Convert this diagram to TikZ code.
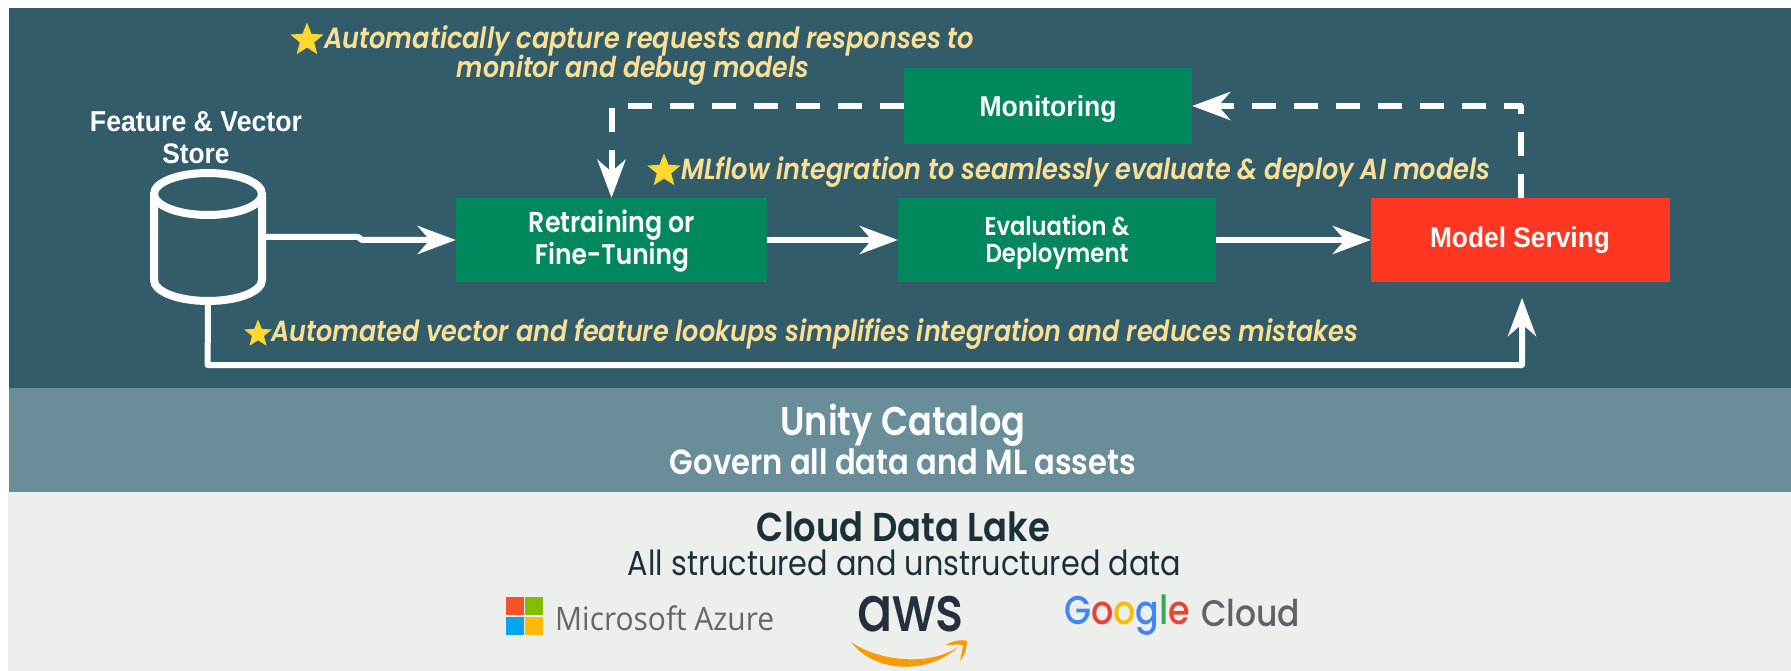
\documentclass[tikz,border=0pt]{standalone}
\usepackage{fontspec}
\usepackage{graphicx}
\usetikzlibrary{arrows.meta,shapes.geometric}
\setmainfont{Liberation Sans}
\newfontfamily\pops[BoldFont={Poppins SemiBold},ItalicFont={Poppins Italic},BoldItalicFont={Poppins SemiBold Italic}]{Poppins}
\newfontfamily\popsm{Poppins Medium}
\newfontfamily\opens{Open Sans}
\definecolor{bgdark}{HTML}{335C6B}
\definecolor{band}{HTML}{6A8D9A}
\definecolor{lake}{HTML}{EDEFEC}
\definecolor{gbox}{HTML}{00875C}
\definecolor{rbox}{HTML}{FF3621}
\definecolor{note}{HTML}{FBE096}
\definecolor{ink}{HTML}{1B3139}
\definecolor{msgray}{HTML}{666666}
\definecolor{awsink}{HTML}{252F3E}
\definecolor{awsor}{HTML}{FF9900}
\definecolor{gbl}{HTML}{4285F4}
\definecolor{gre}{HTML}{EA4335}
\definecolor{gye}{HTML}{FBBC05}
\definecolor{ggr}{HTML}{34A853}
\definecolor{ggy}{HTML}{5F6368}
\definecolor{starc}{HTML}{FFD92E}
\newcommand{\fw}[2]{\resizebox{#1pt}{!}{#2}}
\newcommand{\fv}[3][1.14]{\scalebox{1}[#1]{\resizebox{#2pt}{!}{#3}}}
\tikzset{
  x=1pt,y=-1pt,
  boxg/.style={fill=gbox,text=white,inner sep=0pt,align=center,font=\fontsize{20}{32}\selectfont},
  boxr/.style={fill=rbox,text=white,inner sep=0pt,align=center},
  txt/.style={inner sep=0pt,align=center},
  notetxt/.style={txt,text=note},
  starry/.style={star,star points=5,star point ratio=2.3,fill=starc,draw=none,inner sep=0pt,minimum size=35pt},
  link/.style={draw=white,line width=6pt,line join=round,-{Stealth[length=38pt,width=28pt,inset=12pt,fill=white]}},
  dlink/.style={link,dash pattern=on 24pt off 18pt},
  sq/.style={inner sep=0pt,minimum size=17.5pt}
}
\begin{document}
\begin{tikzpicture}
\useasboundingbox (0,0) rectangle (1791,671);
\fill[white] (0,0) rectangle (1791,671);
\fill[lake] (8,492) rectangle (1791,671);
\fill[bgdark] (9,8) rectangle (1791,388);
\fill[band] (9,388) rectangle (1791,492);

% boxes
\node[boxg,minimum width=311pt,minimum height=84pt] (retrain) at (611.5,240) {};
\node[txt,text=white,font=\pops\bfseries] (rt1) at (612,225) {\fv{166}{Retraining or}};
\node[txt,text=white,font=\pops\bfseries] (rt2) at (612,257) {\fv{154}{Fine-Tuning}};
\node[boxg,minimum width=318pt,minimum height=84pt] (eval) at (1057,240) {};
\node[txt,text=white,font=\pops\bfseries] (ev1) at (1057,226) {\fv{145}{Evaluation \&}};
\node[txt,text=white,font=\pops\bfseries] (ev2) at (1057,256) {\fv{143}{Deployment}};
\node[boxr,minimum width=299pt,minimum height=84pt] (serve) at (1520.5,240) {};
\node[txt,text=white,font=\bfseries] (servet) at (1520,240) {\fv[1.08]{180}{Model Serving}};
\node[boxg,minimum width=288pt,minimum height=76pt] (monitor) at (1048,106) {};
\node[txt,text=white,font=\bfseries] (mont) at (1048,109) {\fv[1.08]{137}{Monitoring}};

% store
\node[inner sep=0pt,minimum width=116pt,minimum height=136pt] (store) at (208,237) {};
\draw[white,line width=8pt] (154,194) -- (154,280) arc[start angle=180,end angle=360,x radius=54pt,y radius=21pt] -- (262,194);
\draw[white,line width=8pt] (208,194) ellipse[x radius=54pt,y radius=21pt];
\node[txt,text=white,font=\bfseries] (storelab1) at (196,122) {\fv[1.08]{212}{Feature \& Vector}};
\node[txt,text=white,font=\bfseries] (storelab2) at (196,154) {\fv[1.08]{67}{Store}};

% connector corners
\coordinate (j1) at (358,237);
\coordinate (j2) at (362,240);
\coordinate (c1) at (207.6,365);
\coordinate (c2) at (1522,365);
\coordinate (c3) at (1522,298);
\coordinate (d1) at (1520.5,106);
\coordinate (d2) at (611.5,106);

\draw[link] (store.east) -- (j1) -- (j2) -- (retrain.west);
\draw[link] (retrain.east) -- (eval.west);
\draw[link] (eval.east) -- (serve.west);
\draw[link] (store.south) -- (c1) -- (c2) -- (c3);
\draw[dlink] (serve.north) -- (d1) -- (monitor.east);
\draw[dlink] (monitor.west) -- (d2) -- (retrain.north);

% notes
\node[starry] (star1) at (307,40) {};
\node[notetxt,anchor=west,font=\pops\bfseries\itshape] (note1) at (324,41) {\fv{650}{Automatically capture requests and responses to}};
\node[notetxt,font=\pops\bfseries\itshape] (note1b) at (633,70) {\fv{352}{monitor and debug models}};
\node[starry] (star2) at (664,171) {};
\node[notetxt,anchor=west,font=\pops\bfseries\itshape] (note2) at (681,172) {\fv{809}{MLflow integration to seamlessly evaluate \& deploy AI models}};
\node[starry,minimum size=29pt] (star3) at (258,334) {};
\node[notetxt,anchor=west,font=\pops\bfseries\itshape] (note3) at (271,334) {\fv{1087}{Automated vector and feature lookups simplifies integration and reduces mistakes}};

% bands
\node[txt,text=white,font=\pops\bfseries] (unity) at (903,425) {\fv{245}{Unity Catalog}};
\node[txt,text=white,font=\pops\bfseries] (govern) at (903,462) {\fv{466}{Govern all data and ML assets}};
\node[txt,text=ink,font=\pops\bfseries] (lakeT) at (903.5,527) {\fv{293}{Cloud Data Lake}};
\node[txt,text=ink,font=\pops] (lakeS) at (904.5,563) {\fv{553}{All structured and unstructured data}};

% Azure
\node[sq,fill={rgb,255:red,243;green,83;blue,37}] (az1) at (515,606) {};
\node[sq,fill={rgb,255:red,129;green,188;blue,6}] (az2) at (534,606) {};
\node[sq,fill={rgb,255:red,5;green,166;blue,240}] (az3) at (515,626) {};
\node[sq,fill={rgb,255:red,255;green,186;blue,8}] (az4) at (534,626) {};
\node[txt,text=msgray,anchor=west,font=\opens] (aztxt) at (555,618) {\fv[1.08]{219}{Microsoft Azure}};

% AWS
\node[txt,text=awsink,font=\popsm] (awstxt) at (910.5,614) {\fv[1.2]{107}{aws}};
\fill[awsor] (851,642) .. controls (880,662) and (930,666) .. (958,647) .. controls (930,674) and (875,674) .. (851,642) -- cycle;
\fill[awsor] (946,645) .. controls (952,641) and (962,639) .. (967,641) .. controls (967,648) and (964,657) .. (960,661) .. controls (961,655) and (963,649) .. (963,645) .. controls (958,644) and (952,645) .. (946,645) -- cycle;

% Google
\node[txt,anchor=west,font=\popsm] (goog) at (1064,615) {\fv[1.15]{126}{\textcolor{gbl}{G}\textcolor{gre}{o}\textcolor{gye}{o}\textcolor{gbl}{g}\textcolor{ggr}{l}\textcolor{gre}{e}}};
\node[txt,anchor=west,text=ggy,font=\popsm] (gcloud) at (1201,613) {\fv[1.12]{99}{Cloud}};
\end{tikzpicture}
\end{document}
